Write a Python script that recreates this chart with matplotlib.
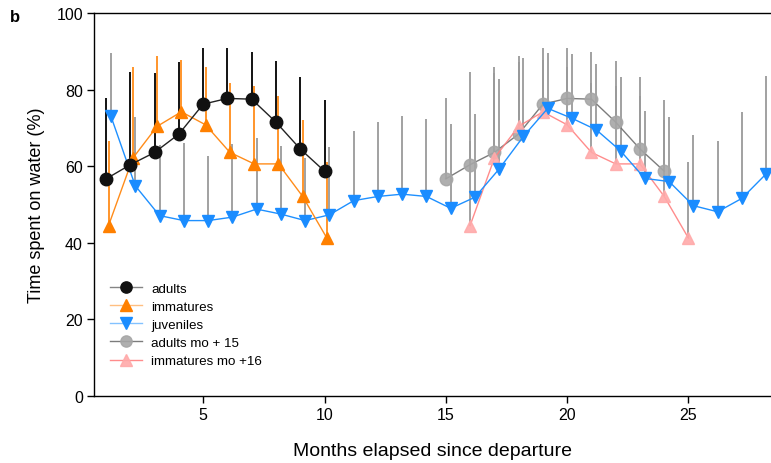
import matplotlib
matplotlib.use("Agg")
import matplotlib.pyplot as plt
from matplotlib.colors import to_rgba
import numpy as np

plt.rcParams['font.family'] = ['Liberation Sans', 'DejaVu Sans']

# ---- data ----
months_first = np.arange(1, 11)
adults = [56.7, 60.4, 63.6, 68.4, 76.2, 77.7, 77.5, 71.5, 64.5, 58.7]
adults_err_top = [77.7, 84.7, 84.3, 87.3, 90.8, 90.8, 89.9, 87.5, 83.2, 77.3]
immatures = [44.5, 62.1, 70.4, 74.2, 70.8, 63.6, 60.6, 60.6, 52.1, 41.2]
immatures_err_top = [66.7, 85.8, 88.9, 87.8, 85.8, 81.7, 80.9, 78.3, 72.1, 61.2]

months_juv = np.arange(1, 29)
juveniles = [73.0, 54.9, 47.1, 45.8, 45.8, 46.7, 48.8, 47.5, 45.8, 47.3,
             51.0, 52.1, 52.7, 52.1, 49.0, 51.9, 59.3, 67.8, 75.1, 72.5,
             69.5, 64.0, 56.8, 56.0, 49.7, 48.1, 51.6, 58.0]
juveniles_err_top = [89.6, 72.8, 65.5, 66.0, 62.6, 65.8, 67.3, 65.2, 62.1, 64.9,
                     69.3, 71.5, 73.0, 72.3, 71.1, 73.6, 82.8, 88.2, 89.6, 89.3,
                     86.7, 83.4, 74.3, 72.8, 68.1, 66.7, 74.1, 83.6]

adults_shift = 14      # "adults mo + 15"
immatures_shift = 15   # "immatures mo +16"

# ---- figure ----
fig = plt.figure(figsize=(7.71, 4.64), dpi=100)
ax = fig.add_axes([94/771, 1-397/464, 1-94/771, (397-14)/464])

def upper_err(x, y, top, color, lw=1.3, alpha=1.0, z=1):
    y = np.asarray(y); top = np.asarray(top)
    ax.errorbar(x, y, yerr=[np.zeros_like(y), top - y], fmt='none',
                ecolor=color, elinewidth=lw, capsize=0, alpha=alpha, zorder=z)

x_ad = months_first
x_im = months_first + 0.1
x_jv = months_juv + 0.2
x_ad2 = months_first + adults_shift
x_im2 = months_first + immatures_shift

grey_err = '#9a9a9a'
upper_err(x_jv, juveniles, juveniles_err_top, grey_err, z=1)
upper_err(x_ad2, adults, adults_err_top, grey_err, z=1)
upper_err(x_im2, immatures, immatures_err_top, grey_err, z=1)
upper_err(x_ad, adults, adults_err_top, '#000000', z=2)
upper_err(x_im, immatures, immatures_err_top, '#ff8c1a', z=2)

ms = 9
ax.plot(x_ad2, adults, '-o', color='#6e6e6e', lw=1.0, ms=ms,
        mfc='#a6a6a6', mec='#a6a6a6', alpha=0.9, label='adults mo + 15', zorder=3)
ax.plot(x_im2, immatures, '-^', color='#ff8080', lw=1.0, ms=ms,
        mfc='#ffaaaa', mec='#ffaaaa', alpha=0.9, label='immatures mo +16', zorder=3)
ax.plot(x_jv, juveniles, '-v', color='#1e90ff', lw=1.0, ms=ms,
        mfc='#1a8cff', mec='#1a8cff', label='juveniles', zorder=4)
ax.plot(x_im, immatures, '-^', color='#ff8c1a', lw=1.0, ms=ms,
        mfc='#ff8000', mec='#ff8000', label='immatures', zorder=4)
ax.plot(x_ad, adults, '-o', color='#222222', lw=1.0, ms=ms,
        mfc='#111111', mec='#111111', label='adults', zorder=5)

ax.set_xlim(0.5, 28.4)
ax.set_ylim(0, 100)
ax.set_xticks([5, 10, 15, 20, 25])
ax.set_yticks([0, 20, 40, 60, 80, 100])
ax.tick_params(axis='both', direction='out', length=5, width=1, labelsize=11.5, pad=3)
ax.spines['right'].set_visible(False)
for s in ['left', 'bottom', 'top']:
    ax.spines[s].set_linewidth(1.0)

ax.set_xlabel('Months elapsed since departure', fontsize=14, labelpad=14)
ax.set_ylabel('Time spent on water (%)', fontsize=13, labelpad=8)

h, l = ax.get_legend_handles_labels()
order = ['adults', 'immatures', 'juveniles', 'adults mo + 15', 'immatures mo +16']
hd = dict(zip(l, h))
leg = ax.legend([hd[k] for k in order], order, loc='upper left',
                bbox_to_anchor=(0.012, 0.318), frameon=False, fontsize=9.6,
                handlelength=2.4, handletextpad=0.7, labelspacing=0.44,
                borderaxespad=0.2, markerscale=0.9)
for lh in leg.get_lines():
    lh.set_color(to_rgba(lh.get_color(), 0.55))

fig.text(10/771, 1-18/464, 'b', fontsize=12, fontweight='bold', va='center', ha='left')

fig.savefig('out.png', dpi=100)
